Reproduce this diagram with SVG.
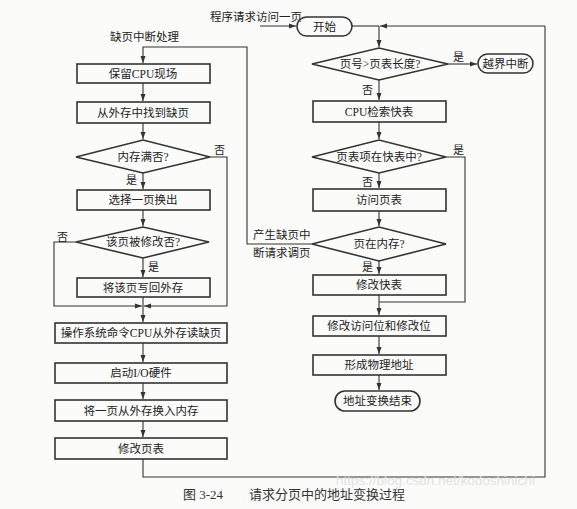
<svg xmlns="http://www.w3.org/2000/svg" width="577" height="509" viewBox="0 0 577 509">
<style>
text{font-family:"Liberation Serif","Noto Sans CJK SC",serif;fill:#222;font-size:11.5px;}
.c{text-anchor:middle;}
.box{fill:none;stroke:#333;stroke-width:1.6;}
.ln{fill:none;stroke:#333;stroke-width:1.1;}
.lab{font-size:11px;}
.cap{font-size:13px;fill:#333;}
</style>
<defs>
<marker id="ah" markerWidth="8" markerHeight="8" refX="7" refY="4" orient="auto" markerUnits="userSpaceOnUse">
<path d="M0,1.5 L7,4 L0,6.5 Z" fill="#333"/>
</marker>
</defs>
<rect width="577" height="509" fill="#fbfbfa"/>

<g id="connectors">
<path class="ln" d="M260 26 H296" marker-end="url(#ah)"/>
<path class="ln" d="M352 26 H379"/>
<path class="ln" d="M545 26 H380" marker-end="url(#ah)"/>
<path class="ln" d="M379 26 V47" marker-end="url(#ah)"/>
<path class="ln" d="M448 64 H477" marker-end="url(#ah)"/>
<path class="ln" d="M379 80 V100" marker-end="url(#ah)"/>
<path class="ln" d="M379 122 V139" marker-end="url(#ah)"/>
<path class="ln" d="M379 173 V188" marker-end="url(#ah)"/>
<path class="ln" d="M379 211 V226" marker-end="url(#ah)"/>
<path class="ln" d="M379 261 V274" marker-end="url(#ah)"/>
<path class="ln" d="M379 295 V315" marker-end="url(#ah)"/>
<path class="ln" d="M446 157 H465 V302 H379"/>
<path class="ln" d="M379 336 V354" marker-end="url(#ah)"/>
<path class="ln" d="M379 375 V390" marker-end="url(#ah)"/>
<path class="ln" d="M312 244 H247 V47 H143 V63" marker-end="url(#ah)"/>
<path class="ln" d="M143 83 V101" marker-end="url(#ah)"/>
<path class="ln" d="M143 123 V139" marker-end="url(#ah)"/>
<path class="ln" d="M143 173 V189" marker-end="url(#ah)"/>
<path class="ln" d="M143 210 V226" marker-end="url(#ah)"/>
<path class="ln" d="M143 258 V277" marker-end="url(#ah)"/>
<path class="ln" d="M143 297 V322" marker-end="url(#ah)"/>
<path class="ln" d="M210 157 H227 V306 H144" marker-end="url(#ah)"/>
<path class="ln" d="M76 242 H54 V306 H142" marker-end="url(#ah)"/>
<path class="ln" d="M143 343 V362" marker-end="url(#ah)"/>
<path class="ln" d="M143 383 V399" marker-end="url(#ah)"/>
<path class="ln" d="M143 421 V437" marker-end="url(#ah)"/>
<path class="ln" d="M143 459 V477 H545 V26"/>
</g>

<g id="label-request"><text x="210" y="21">程序请求访问一页</text></g>
<g id="label-fault"><text x="110" y="41">缺页中断处理</text></g>

<g id="start"><rect class="box" x="297" y="17" width="55" height="19" rx="9.5"/><text class="c" x="324.5" y="30.5">开始</text></g>
<g id="d-pagelen"><path class="box" d="M312 64 L379 48 L448 64 L379 80 Z"/><text class="c" x="380" y="68">页号&gt;页表长度?</text></g>
<g id="overflow"><rect class="box" x="478" y="54" width="55" height="19" rx="9.5"/><text class="c" x="505.5" y="67.5">越界中断</text></g>
<g id="cpu-search"><rect class="box" x="313" y="101" width="133" height="21"/><text class="c" x="379" y="115.5">CPU检索快表</text></g>
<g id="d-intlb"><path class="box" d="M312 157 L379 140 L446 157 L379 173 Z"/><text class="c" x="379" y="161">页表项在快表中?</text></g>
<g id="visit-pt"><rect class="box" x="313" y="189" width="133" height="22"/><text class="c" x="379" y="204">访问页表</text></g>
<g id="d-inmem"><path class="box" d="M312 244 L379 227 L446 244 L379 261 Z"/><text class="c" x="379" y="248">页在内存?</text></g>
<g id="mod-tlb"><rect class="box" x="313" y="275" width="133" height="20"/><text class="c" x="379" y="289">修改快表</text></g>
<g id="mod-bits"><rect class="box" x="313" y="316" width="133" height="20"/><text class="c" x="379" y="330">修改访问位和修改位</text></g>
<g id="phys"><rect class="box" x="313" y="355" width="133" height="20"/><text class="c" x="379" y="369">形成物理地址</text></g>
<g id="end"><rect class="box" x="335" y="391" width="85" height="20" rx="10"/><text class="c" x="377.5" y="405">地址变换结束</text></g>

<g id="keep-cpu"><rect class="box" x="77" y="64" width="133" height="19"/><text class="c" x="143" y="77.5">保留CPU现场</text></g>
<g id="find-page"><rect class="box" x="77" y="102" width="133" height="21"/><text class="c" x="143" y="116.5">从外存中找到缺页</text></g>
<g id="d-memfull"><path class="box" d="M76 157 L143 140 L210 157 L143 173 Z"/><text class="c" x="143" y="161">内存满否?</text></g>
<g id="select-out"><rect class="box" x="77" y="190" width="133" height="20"/><text class="c" x="143" y="204">选择一页换出</text></g>
<g id="d-modified"><path class="box" d="M76 242 L143 227 L209 242 L143 258 Z"/><text class="c" x="143" y="246">该页被修改否?</text></g>
<g id="write-back"><rect class="box" x="77" y="278" width="133" height="19"/><text class="c" x="143" y="291.5">将该页写回外存</text></g>
<g id="os-cmd"><rect class="box" x="55" y="323" width="172" height="20"/><text class="c" x="141" y="337">操作系统命令CPU从外存读缺页</text></g>
<g id="start-io"><rect class="box" x="55" y="363" width="172" height="20"/><text class="c" x="141" y="377">启动I/O硬件</text></g>
<g id="swap-in"><rect class="box" x="55" y="400" width="172" height="21"/><text class="c" x="141" y="414.5">将一页从外存换入内存</text></g>
<g id="mod-pt"><rect class="box" x="55" y="438" width="172" height="21"/><text class="c" x="141" y="452.5">修改页表</text></g>

<g id="edge-labels">
<text class="lab" x="453" y="61">是</text>
<text class="lab" x="362" y="94">否</text>
<text class="lab" x="453" y="154">是</text>
<text class="lab" x="362" y="186">否</text>
<text class="lab" x="362" y="271">是</text>
<text x="253" y="239">产生缺页中</text>
<text x="253" y="257">断请求调页</text>
<text class="lab" x="214" y="154">否</text>
<text class="lab" x="126" y="184">是</text>
<text class="lab" x="57" y="241">否</text>
<text class="lab" x="148" y="271">是</text>
</g>

<g id="caption">
<text x="336" y="485" style="font-family:'Liberation Sans',sans-serif;font-size:13.5px;fill:#e2e2e2">https://blog.csdn.net/kodoshinichi</text>
<text class="cap" x="183" y="499">图 3-24</text>
<text class="cap" x="249" y="499">请求分页中的地址变换过程</text>
</g>
</svg>
